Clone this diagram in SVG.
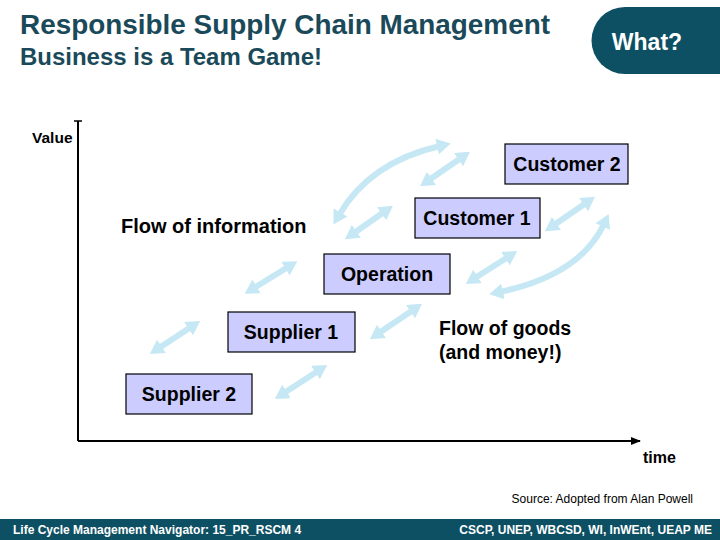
<svg xmlns="http://www.w3.org/2000/svg" width="720" height="540" viewBox="0 0 720 540">
<defs>
<style>
.t{font-family:"Liberation Sans",Arial,sans-serif;font-weight:bold}
.node rect{fill:#ccccff;stroke:#000;stroke-width:1.2}
.node text{font-family:"Liberation Sans",Arial,sans-serif;font-weight:bold;font-size:19.5px;text-anchor:middle;fill:#000}
.arr{fill:none;stroke:#c6e8f4;stroke-width:6}
.foot{font-family:"Liberation Sans",Arial,sans-serif;font-weight:bold;font-size:12px;fill:#fff}
</style>
<marker id="ah" viewBox="0 0 14 16" refX="3" refY="8" markerWidth="14" markerHeight="16" markerUnits="userSpaceOnUse" orient="auto-start-reverse">
<path d="M0,0 L14,8 L0,16 Z" fill="#c6e8f4"/>
</marker>
<marker id="ax" viewBox="0 0 10 8" refX="9" refY="4" markerWidth="10" markerHeight="8" markerUnits="userSpaceOnUse" orient="auto">
<path d="M0,0 L10,4 L0,8 Z" fill="#000"/>
</marker>
</defs>
<rect width="720" height="540" fill="#fff"/>
<text class="t" x="20" y="34" font-size="27.5" fill="#1a4a5a" textLength="530" lengthAdjust="spacingAndGlyphs">Responsible Supply Chain Management</text>
<text class="t" x="20" y="65" font-size="23" fill="#1a4a5a" textLength="302" lengthAdjust="spacingAndGlyphs">Business is a Team Game!</text>
<g id="what">
<path d="M625,7 H720 V74 H625 A33.5,33.5 0 0 1 625,7 Z" fill="#0e5063"/>
<text class="t" x="647" y="50" font-size="23" fill="#fff" text-anchor="middle">What?</text>
</g>
<g id="axes">
<line x1="78" y1="121" x2="78" y2="441" stroke="#000" stroke-width="2"/>
<line x1="74" y1="121" x2="82" y2="121" stroke="#000" stroke-width="1.5"/>
<line x1="78" y1="441" x2="640" y2="441" stroke="#000" stroke-width="2" marker-end="url(#ax)"/>
<text class="t" x="32" y="143" font-size="15.5" fill="#000">Value</text>
<text class="t" x="643" y="463" font-size="16" fill="#000">time</text>
</g>
<g id="connectors">
<line class="arr" x1="159" y1="348" x2="191" y2="327" marker-start="url(#ah)" marker-end="url(#ah)"/>
<line class="arr" x1="254" y1="288" x2="288" y2="267" marker-start="url(#ah)" marker-end="url(#ah)"/>
<line class="arr" x1="284" y1="393" x2="318" y2="371" marker-start="url(#ah)" marker-end="url(#ah)"/>
<line class="arr" x1="379" y1="333" x2="413" y2="310" marker-start="url(#ah)" marker-end="url(#ah)"/>
<line class="arr" x1="354" y1="233" x2="384" y2="212" marker-start="url(#ah)" marker-end="url(#ah)"/>
<line class="arr" x1="429" y1="180" x2="461" y2="158" marker-start="url(#ah)" marker-end="url(#ah)"/>
<line class="arr" x1="554" y1="225" x2="586" y2="203" marker-start="url(#ah)" marker-end="url(#ah)"/>
<line class="arr" x1="475" y1="278" x2="508" y2="257" marker-start="url(#ah)" marker-end="url(#ah)"/>
<path class="arr" d="M339,215 Q370,162 440,146" marker-start="url(#ah)" marker-end="url(#ah)"/>
<path class="arr" d="M500,292 Q580,275 604,224" marker-start="url(#ah)" marker-end="url(#ah)"/>
</g>
<g id="customer2" class="node"><rect x="505" y="144" width="123" height="40"/><text x="567" y="171">Customer 2</text></g>
<g id="customer1" class="node"><rect x="415" y="198" width="125" height="40"/><text x="477" y="225">Customer 1</text></g>
<g id="operation" class="node"><rect x="324" y="254" width="126" height="40"/><text x="387" y="281">Operation</text></g>
<g id="supplier1" class="node"><rect x="228" y="312" width="127" height="40"/><text x="291" y="339">Supplier 1</text></g>
<g id="supplier2" class="node"><rect x="126" y="374" width="126" height="40"/><text x="189" y="401">Supplier 2</text></g>
<text class="t" x="121" y="233" font-size="20" fill="#000">Flow of information</text>
<text class="t" x="439" y="335" font-size="19.5" fill="#000">Flow of goods</text>
<text class="t" x="439" y="359" font-size="19.5" fill="#000">(and money!)</text>
<text x="693" y="503" font-family="Liberation Sans,Arial,sans-serif" font-size="12" text-anchor="end" fill="#000">Source: Adopted from Alan Powell</text>
<g id="footer">
<rect x="0" y="519" width="720" height="21" fill="#0e5063"/>
<text class="foot" x="13" y="534">Life Cycle Management Navigator: 15_PR_RSCM 4</text>
<text class="foot" x="712" y="534" text-anchor="end">CSCP, UNEP, WBCSD, WI, InWEnt, UEAP ME</text>
</g>
</svg>
